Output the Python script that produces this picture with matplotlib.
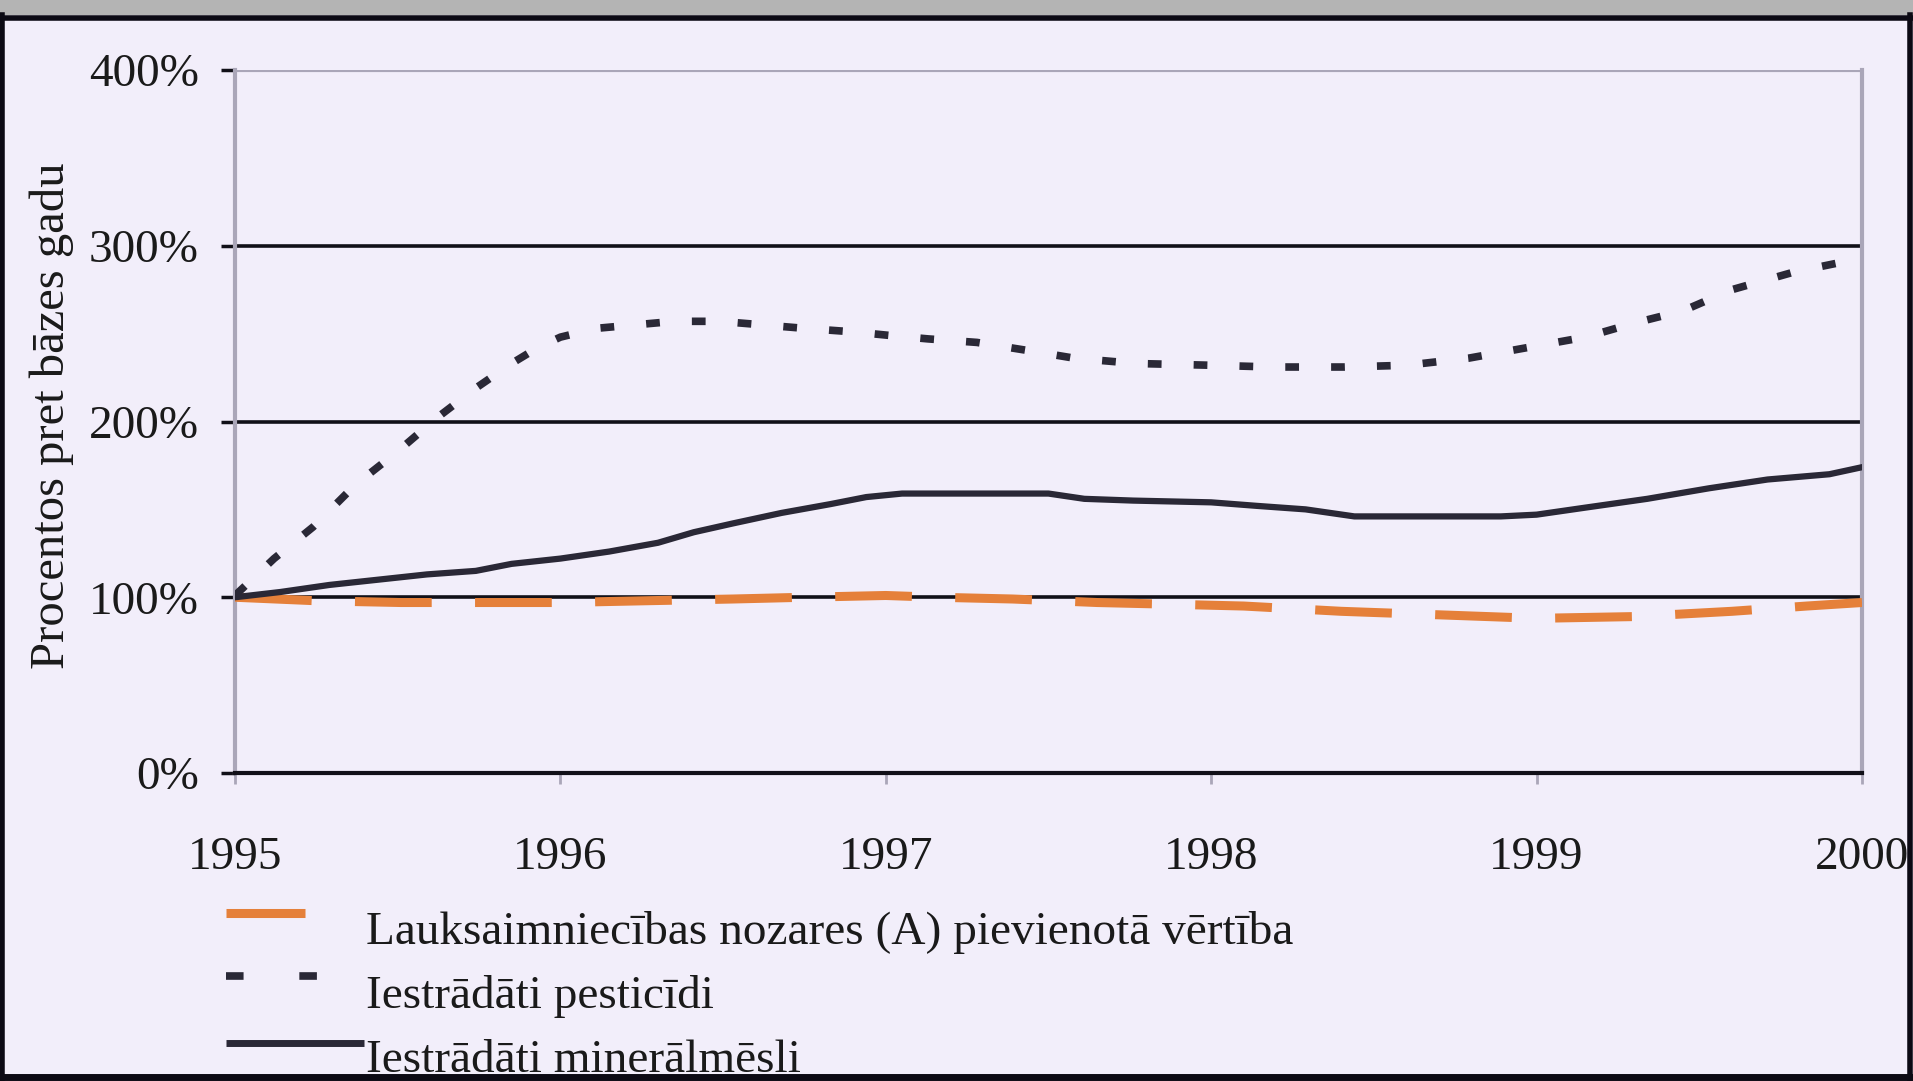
import matplotlib.pyplot as plt
from matplotlib.lines import Line2D
from matplotlib.patches import Rectangle
from matplotlib.ticker import FuncFormatter

# indeksi pret 1995. gadu (%), nolasīti pa ceturkšņiem/starppunktiem
x_pest = [1995.0, 1995.12, 1995.24, 1995.37, 1995.5, 1995.62, 1995.74, 1995.85,
          1995.93, 1996.0, 1996.11, 1996.23, 1996.35, 1996.49, 1996.62, 1996.75,
          1996.9, 1997.01, 1997.13, 1997.28, 1997.45, 1997.58, 1997.77, 1998.0,
          1998.19, 1998.41, 1998.6, 1998.79, 1999.0, 1999.15, 1999.3, 1999.45,
          1999.6, 1999.79, 2000.0]
pesticidi = [101, 122, 140, 164, 183, 202, 219, 233,
             242, 248, 253, 255, 257, 257, 255, 253,
             251, 249, 247, 245, 240, 236, 233, 232,
             231, 231, 232, 236, 243, 248, 256, 263,
             275, 285, 293]

x_min = [1995.0, 1995.14, 1995.29, 1995.44, 1995.59, 1995.74, 1995.85, 1996.0,
         1996.15, 1996.3, 1996.41, 1996.53, 1996.68, 1996.83, 1996.94, 1997.05,
         1997.28, 1997.5, 1997.61, 1997.76, 1998.0, 1998.14, 1998.29, 1998.44,
         1998.59, 1998.89, 1999.0, 1999.15, 1999.34, 1999.53, 1999.71, 1999.9,
         2000.0]
mineralmesli = [100, 103, 107, 110, 113, 115, 119, 122,
                126, 131, 137, 142, 148, 153, 157, 159,
                159, 159, 156, 155, 154, 152, 150, 146,
                146, 146, 147, 151, 156, 162, 167, 170,
                174]

x_va = [1995.0, 1995.25, 1995.51, 1995.78, 1996.0, 1996.26, 1996.53, 1996.75,
        1997.0, 1997.16, 1997.39, 1997.65, 1997.88, 1998.1, 1998.4, 1998.7,
        1999.0, 1999.3, 1999.6, 1999.83, 2000.0]
pievienota_vertiba = [100, 98, 97, 97, 97, 98, 99, 100,
                      101, 100, 99, 97, 96, 95, 92, 90,
                      88, 89, 92, 95, 97]

gadi = [1995, 1996, 1997, 1998, 1999, 2000]
y_ticks = [0, 100, 200, 300, 400]

nosaukumi = ["Lauksaimniecības nozares (A) pievienotā vērtība",
             "Iestrādāti pesticīdi",
             "Iestrādāti minerālmēsli"]

BG = "#f2eefa"
ORANGE = "#e5803a"
DARK = "#2a2836"
BLACK = "#111018"
GRID_GRAY = "#aaa6b8"
FS = 34

plt.rcParams["font.family"] = ["Liberation Serif", "DejaVu Serif"]

W, H = 1913, 1081
fig = plt.figure(figsize=(W / 100, H / 100), dpi=100, facecolor=BG)

ax = fig.add_axes([235 / W, 1 - 773 / H, (1862 - 235) / W, (773 - 70) / H])
ax.set_facecolor(BG)

# horizontālās līnijas
for v in y_ticks[1:-1]:
    ax.axhline(v, color=BLACK, lw=2.6, zorder=1)
ax.axhline(400, color=GRID_GRAY, lw=3, zorder=1)

ax.plot(x_va, pievienota_vertiba, color=ORANGE, lw=6.5,
        dashes=(8.5, 4.8), dash_capstyle="butt", zorder=3)
ax.plot(x_pest, pesticidi, color=DARK, lw=5.5,
        dashes=(1.8, 4.2), dash_capstyle="butt", zorder=3)
ax.plot(x_min, mineralmesli, color=DARK, lw=4.5, zorder=3)

ax.set_xlim(1995, 2000)
ax.set_ylim(0, 400)
ax.set_xticks(gadi)
ax.set_yticks(y_ticks)
ax.yaxis.set_major_formatter(FuncFormatter(lambda v, p: f"{int(v)}%"))

for s in ["right", "left"]:
    ax.spines[s].set_color(GRID_GRAY)
    ax.spines[s].set_linewidth(3)
ax.spines["top"].set_visible(False)
ax.spines["bottom"].set_color(BLACK)
ax.spines["bottom"].set_linewidth(3)

ax.tick_params(axis="y", length=10, width=2.5, color=BLACK, pad=16,
               labelsize=FS, labelcolor="#1a1a1a")
ax.tick_params(axis="x", length=8, width=2, color=GRID_GRAY, pad=38,
               labelsize=FS, labelcolor="#1a1a1a")

fig.text(52 / W, 1 - 416 / H, "Procentos pret bāzes gadu", rotation=90,
         ha="center", va="center", fontsize=FS + 1, color="#1a1a1a")

# leģenda zem grafika
leg_style = [
    dict(color=ORANGE, lw=6.5, solid_capstyle="butt"),
    dict(color=DARK, lw=5.5, dashes=(2.3, 7.3), dash_capstyle="butt"),
    dict(color=DARK, lw=5, solid_capstyle="butt"),
]
leg_x = [(226, 305), (226, 318), (226, 364)]
leg_y = [913, 976, 1043]
txt_y = [932, 996, 1061]
for (x0, x1), ly, ty, name, st in zip(leg_x, leg_y, txt_y, nosaukumi, leg_style):
    fig.add_artist(Line2D([x0 / W, x1 / W], [1 - ly / H, 1 - ly / H],
                          transform=fig.transFigure, **st))
    fig.text(366 / W, 1 - ty / H, name, ha="left", va="center",
             fontsize=FS, color="#1a1a1a")

# rāmis
fig.add_artist(Rectangle((0, 1 - 15 / H), 1, 15 / H, transform=fig.transFigure,
                         facecolor="#b4b4b4", edgecolor="none", zorder=5))
fig.add_artist(Line2D([0, 1], [1 - 18 / H, 1 - 18 / H], transform=fig.transFigure,
                      color="#0c0a14", lw=4, zorder=6))
fig.add_artist(Line2D([0, 1], [4 / H, 4 / H], transform=fig.transFigure,
                      color="#0c0a14", lw=5, zorder=6))
fig.add_artist(Line2D([2 / W, 2 / W], [0, 1 - 15 / H], transform=fig.transFigure,
                      color="#0c0a14", lw=4, zorder=6))
fig.add_artist(Line2D([1 - 3 / W, 1 - 3 / W], [0, 1 - 15 / H], transform=fig.transFigure,
                      color="#0c0a14", lw=4, zorder=6))

fig.savefig("out.png", dpi=100, facecolor=BG)
